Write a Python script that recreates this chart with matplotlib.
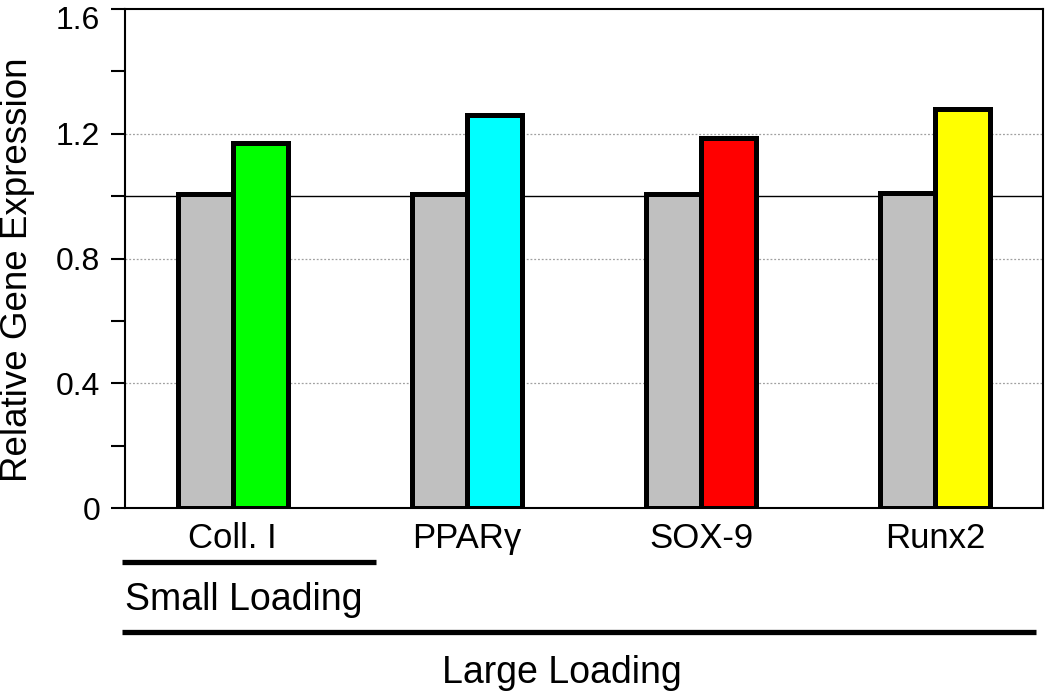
import numpy as np
import matplotlib
matplotlib.use("Agg")
import matplotlib.pyplot as plt
import matplotlib.transforms as mtransforms
from matplotlib.ticker import MultipleLocator

plt.rcParams['font.family'] = ['Liberation Sans', 'DejaVu Sans']

genes = ["Coll. I", "PPAR\u03b3", "SOX-9", "Runx2"]
control = [1.007, 1.007, 1.007, 1.011]
loaded = [1.171, 1.260, 1.186, 1.278]
loaded_colors = ["#00FF00", "#00FFFF", "#FF0000", "#FFFF00"]
control_color = "#C0C0C0"
yticks = [0, 0.4, 0.8, 1.2, 1.6]
ytick_labels = ["0", "0.4", "0.8", "1.2", "1.6"]

fig = plt.figure(figsize=(10.5, 6.92), dpi=100)
ax = fig.add_axes([125 / 1050, 1 - 508 / 692, 918 / 1050, 499 / 692])

x = np.arange(len(genes))
w = 0.235

# grid lines behind bars
for g in [0.4, 0.8, 1.2]:
    ax.axhline(g, color="#A0A0A0", lw=0.9, ls=(0, (1.5, 1.5)), zorder=0)
ax.axhline(1.0, color="black", lw=1.0, zorder=0)

ax.bar(x - w / 2, control, w, color=control_color, edgecolor="black", linewidth=3.6, zorder=2)
ax.bar(x + w / 2, loaded, w, color=loaded_colors, edgecolor="black", linewidth=3.6, zorder=2)

ax.set_xlim(-0.46, 3.46)
ax.set_ylim(0, 1.6)
ax.set_yticks(yticks)
ax.set_yticklabels(ytick_labels, fontsize=23)
ax.yaxis.set_minor_locator(MultipleLocator(0.2))
ax.tick_params(axis="y", which="both", direction="out", length=10, width=1.5, pad=8)
ax.set_xticks(x)
ax.set_xticklabels(genes, fontsize=25)
ax.tick_params(axis="x", length=0, pad=10)
for s in ax.spines.values():
    s.set_linewidth(1.5)

# top label sits a little lower, like the reference
top_lbl = ax.get_yticklabels()[-1]
top_lbl.set_transform(top_lbl.get_transform() +
                      mtransforms.ScaledTranslation(0, -6 / 72, fig.dpi_scale_trans))

fig.text(18 / 1050, 1 - 270 / 692, "Relative Gene Expression", rotation=90,
         ha="center", va="center", fontsize=26.5)

# loading group brackets
ax.plot([-0.003, 0.273], [-0.108, -0.108], color="black", lw=3.8,
        transform=ax.transAxes, clip_on=False, solid_capstyle="butt")
ax.text(0.0, -0.184, "Small Loading", transform=ax.transAxes, fontsize=27,
        ha="left", va="center")
ax.plot([-0.003, 0.992], [-0.248, -0.248], color="black", lw=3.8,
        transform=ax.transAxes, clip_on=False, solid_capstyle="butt")
ax.text((562 - 125) / 918, -0.33, "Large Loading", transform=ax.transAxes, fontsize=27,
        ha="center", va="center")

fig.savefig("out.png", dpi=100)
